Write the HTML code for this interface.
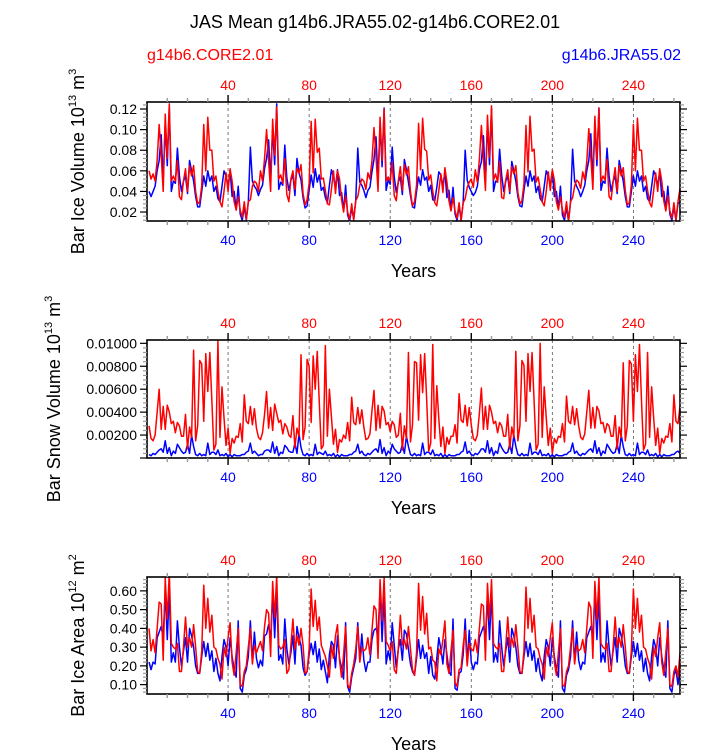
<!DOCTYPE html>
<html><head><meta charset="utf-8"><style>
html,body{margin:0;padding:0;background:#fff;}
svg{display:block;font-family:"Liberation Sans",sans-serif;}
</style></head><body>
<svg id="chart" width="723" height="755" viewBox="0 0 723 755">
<text x="375" y="28" font-size="18" text-anchor="middle">JAS Mean g14b6.JRA55.02-g14b6.CORE2.01</text>
<text x="147" y="60" font-size="16" fill="#ff0000">g14b6.CORE2.01</text>
<text x="681" y="60" font-size="16" fill="#0000ff" text-anchor="end">g14b6.JRA55.02</text>
</svg>
<script>
const xTicks=[40,80,120,160,200,240];
const ivTicks=[0.02,0.04,0.06,0.08,0.10,0.12];
const ivLabels=["0.02","0.04","0.06","0.08","0.10","0.12"];
const svTicks=[0.002,0.004,0.006,0.008,0.010];
const svLabels=["0.00200","0.00400","0.00600","0.00800","0.01000"];
const iaTicks=[0.1,0.2,0.3,0.4,0.5,0.6];
const iaLabels=["0.10","0.20","0.30","0.40","0.50","0.60"];

const iceVolCore=[
0.060,0.052,0.057,0.050,0.070,0.105,0.075,0.040,0.115,0.072,0.125,0.050,0.055,0.050,0.070,0.035,0.032,0.050,0.062,0.040,0.065,0.055,0.065,0.040,0.028,0.030,0.045,0.105,0.060,0.112,0.080,0.080,0.050,0.055,0.040,0.030,0.025,0.040,0.058,0.040,0.062,0.050,0.030,0.022,0.035,0.022,0.015,0.030,0.013,0.030,0.032,0.045,0.050,
0.048,0.040,0.060,0.050,0.072,0.100,0.070,0.040,0.110,0.075,0.122,0.052,0.056,0.048,0.072,0.037,0.030,0.052,0.060,0.042,0.062,0.058,0.066,0.038,0.027,0.032,0.048,0.108,0.058,0.110,0.078,0.082,0.052,0.053,0.041,0.028,0.027,0.042,0.060,0.038,0.060,0.052,0.032,0.020,0.036,0.020,0.013,0.028,0.012,0.031,0.035,0.046,0.052,
0.050,0.042,0.058,0.052,0.070,0.102,0.074,0.040,0.112,0.070,0.120,0.050,0.054,0.050,0.068,0.036,0.031,0.050,0.064,0.041,0.066,0.056,0.064,0.040,0.026,0.030,0.046,0.106,0.061,0.111,0.081,0.079,0.051,0.056,0.040,0.029,0.026,0.041,0.057,0.039,0.063,0.049,0.031,0.021,0.034,0.021,0.014,0.029,0.012,0.029,0.033,0.044,0.049,
0.052,0.044,0.061,0.049,0.071,0.104,0.072,0.041,0.114,0.073,0.123,0.051,0.057,0.049,0.069,0.034,0.033,0.051,0.061,0.040,0.064,0.057,0.065,0.039,0.028,0.031,0.047,0.104,0.059,0.113,0.079,0.081,0.049,0.054,0.042,0.030,0.026,0.040,0.059,0.041,0.061,0.051,0.030,0.022,0.035,0.022,0.015,0.030,0.011,0.030,0.034,0.045,0.051,
0.049,0.043,0.059,0.051,0.069,0.101,0.073,0.042,0.113,0.071,0.121,0.049,0.055,0.051,0.071,0.035,0.032,0.049,0.063,0.040,0.065,0.055,0.063,0.041,0.027,0.029,0.046,0.105,0.060,0.111,0.080,0.080,0.050,0.055,0.041,0.029,0.025,0.041,0.058,0.040,0.062,0.050,0.031,0.021,0.036,0.021,0.014,0.029,0.012,0.030,0.043];
const iceVolJra=[
0.040,0.035,0.040,0.045,0.060,0.070,0.095,0.050,0.105,0.065,0.122,0.040,0.050,0.048,0.082,0.055,0.040,0.050,0.055,0.038,0.070,0.060,0.050,0.035,0.025,0.025,0.040,0.055,0.045,0.060,0.050,0.055,0.040,0.045,0.033,0.030,0.045,0.060,0.055,0.045,0.060,0.035,0.040,0.022,0.045,0.018,0.012,0.025,0.012,0.030,0.083,0.050,0.045,
0.042,0.036,0.042,0.046,0.062,0.072,0.090,0.052,0.100,0.066,0.125,0.042,0.049,0.046,0.085,0.053,0.041,0.051,0.056,0.036,0.072,0.058,0.051,0.034,0.024,0.026,0.041,0.056,0.044,0.062,0.049,0.056,0.041,0.044,0.034,0.029,0.046,0.061,0.054,0.044,0.061,0.036,0.039,0.021,0.046,0.017,0.011,0.024,0.013,0.031,0.082,0.049,0.046,
0.041,0.034,0.041,0.044,0.059,0.071,0.093,0.051,0.104,0.064,0.121,0.041,0.051,0.047,0.083,0.054,0.039,0.049,0.054,0.037,0.071,0.061,0.049,0.036,0.025,0.024,0.040,0.054,0.046,0.061,0.051,0.054,0.040,0.046,0.032,0.031,0.044,0.059,0.056,0.045,0.059,0.034,0.041,0.022,0.044,0.018,0.012,0.026,0.012,0.029,0.080,0.051,0.044,
0.040,0.036,0.039,0.045,0.061,0.069,0.094,0.049,0.106,0.066,0.120,0.040,0.050,0.049,0.081,0.056,0.040,0.050,0.055,0.038,0.069,0.060,0.050,0.035,0.026,0.025,0.041,0.055,0.045,0.060,0.050,0.055,0.039,0.045,0.033,0.030,0.045,0.060,0.055,0.046,0.060,0.035,0.040,0.023,0.045,0.017,0.012,0.025,0.011,0.030,0.081,0.050,0.045,
0.041,0.035,0.040,0.046,0.060,0.070,0.096,0.050,0.105,0.065,0.121,0.041,0.050,0.048,0.082,0.055,0.040,0.050,0.055,0.038,0.070,0.060,0.050,0.035,0.025,0.025,0.040,0.055,0.045,0.060,0.050,0.055,0.040,0.045,0.033,0.030,0.045,0.060,0.055,0.045,0.060,0.035,0.040,0.022,0.045,0.018,0.012,0.025,0.012,0.028,0.030];
const snowVolCore=[
0.0028,0.0017,0.0015,0.0020,0.0040,0.0060,0.0025,0.0045,0.0025,0.0046,0.0040,0.0030,0.0032,0.0022,0.0031,0.0028,0.0019,0.0019,0.0038,0.0008,0.0027,0.0018,0.0094,0.0015,0.0028,0.0085,0.0082,0.0032,0.0091,0.0058,0.0092,0.0050,0.0007,0.0012,0.0102,0.0018,0.0062,0.0035,0.0011,0.0026,0.0004,0.0017,0.0013,0.0019,0.0018,0.0030,0.0014,0.0055,0.0032,0.0030,0.0045,0.0029,0.0043,
0.0026,0.0018,0.0016,0.0022,0.0038,0.0058,0.0026,0.0044,0.0024,0.0047,0.0039,0.0031,0.0033,0.0021,0.0030,0.0027,0.0020,0.0018,0.0037,0.0009,0.0026,0.0019,0.0090,0.0016,0.0027,0.0086,0.0080,0.0031,0.0089,0.0060,0.0093,0.0049,0.0008,0.0011,0.0098,0.0019,0.0060,0.0036,0.0012,0.0025,0.0005,0.0016,0.0014,0.0020,0.0017,0.0031,0.0015,0.0053,0.0031,0.0029,0.0044,0.0030,0.0042,
0.0027,0.0016,0.0017,0.0021,0.0041,0.0059,0.0024,0.0046,0.0026,0.0045,0.0041,0.0029,0.0031,0.0023,0.0032,0.0029,0.0018,0.0020,0.0039,0.0007,0.0028,0.0017,0.0092,0.0014,0.0029,0.0084,0.0083,0.0033,0.0090,0.0057,0.0091,0.0051,0.0006,0.0013,0.0099,0.0017,0.0063,0.0034,0.0010,0.0027,0.0004,0.0018,0.0012,0.0019,0.0019,0.0029,0.0013,0.0056,0.0033,0.0031,0.0046,0.0028,0.0044,
0.0029,0.0017,0.0015,0.0020,0.0039,0.0061,0.0025,0.0045,0.0025,0.0046,0.0040,0.0030,0.0032,0.0022,0.0031,0.0028,0.0019,0.0019,0.0038,0.0008,0.0027,0.0018,0.0093,0.0015,0.0028,0.0085,0.0081,0.0032,0.0091,0.0058,0.0092,0.0050,0.0007,0.0012,0.0100,0.0018,0.0062,0.0035,0.0011,0.0026,0.0004,0.0017,0.0013,0.0019,0.0018,0.0030,0.0014,0.0054,0.0032,0.0030,0.0045,0.0029,0.0043,
0.0028,0.0018,0.0016,0.0021,0.0040,0.0059,0.0026,0.0044,0.0026,0.0045,0.0041,0.0030,0.0031,0.0022,0.0030,0.0028,0.0019,0.0019,0.0037,0.0008,0.0027,0.0018,0.0083,0.0015,0.0028,0.0085,0.0082,0.0032,0.0090,0.0058,0.0099,0.0050,0.0007,0.0012,0.0092,0.0018,0.0062,0.0035,0.0011,0.0026,0.0004,0.0017,0.0013,0.0019,0.0018,0.0030,0.0014,0.0055,0.0032,0.0030,0.0045];
const snowVolJra=[
0.0003,0.0002,0.0004,0.0003,0.0005,0.0007,0.0008,0.0005,0.0015,0.0004,0.0009,0.0002,0.0006,0.0004,0.0012,0.0009,0.0006,0.0004,0.0005,0.0012,0.0004,0.0020,0.0010,0.0003,0.0002,0.0004,0.0002,0.0003,0.0002,0.0013,0.0003,0.0005,0.0005,0.0003,0.0007,0.0002,0.0003,0.0002,0.0004,0.0001,0.0003,0.0001,0.0003,0.0002,0.0002,0.0002,0.0003,0.0003,0.0005,0.0006,0.0013,0.0004,0.0006,
0.0004,0.0002,0.0003,0.0003,0.0006,0.0007,0.0007,0.0005,0.0014,0.0004,0.0010,0.0002,0.0005,0.0004,0.0011,0.0009,0.0006,0.0005,0.0005,0.0013,0.0004,0.0021,0.0009,0.0003,0.0002,0.0004,0.0002,0.0003,0.0002,0.0012,0.0003,0.0005,0.0004,0.0003,0.0006,0.0002,0.0003,0.0002,0.0004,0.0001,0.0003,0.0001,0.0003,0.0002,0.0002,0.0002,0.0003,0.0003,0.0005,0.0006,0.0012,0.0004,0.0006,
0.0003,0.0002,0.0004,0.0003,0.0005,0.0007,0.0008,0.0005,0.0016,0.0004,0.0009,0.0002,0.0006,0.0004,0.0012,0.0008,0.0006,0.0004,0.0005,0.0012,0.0004,0.0019,0.0010,0.0003,0.0002,0.0004,0.0002,0.0003,0.0002,0.0013,0.0003,0.0005,0.0005,0.0003,0.0007,0.0002,0.0003,0.0002,0.0004,0.0001,0.0003,0.0001,0.0003,0.0002,0.0002,0.0002,0.0003,0.0003,0.0005,0.0006,0.0014,0.0004,0.0006,
0.0003,0.0002,0.0004,0.0003,0.0005,0.0008,0.0008,0.0005,0.0015,0.0004,0.0009,0.0002,0.0006,0.0004,0.0013,0.0009,0.0006,0.0004,0.0005,0.0012,0.0004,0.0020,0.0010,0.0003,0.0002,0.0004,0.0002,0.0003,0.0002,0.0013,0.0003,0.0005,0.0005,0.0003,0.0007,0.0002,0.0003,0.0002,0.0004,0.0001,0.0003,0.0001,0.0003,0.0002,0.0002,0.0002,0.0003,0.0003,0.0005,0.0006,0.0013,0.0004,0.0006,
0.0003,0.0002,0.0004,0.0003,0.0005,0.0007,0.0008,0.0005,0.0015,0.0004,0.0009,0.0002,0.0006,0.0004,0.0012,0.0009,0.0006,0.0004,0.0005,0.0012,0.0004,0.0020,0.0010,0.0003,0.0002,0.0004,0.0002,0.0003,0.0002,0.0013,0.0003,0.0005,0.0005,0.0003,0.0007,0.0002,0.0003,0.0002,0.0004,0.0001,0.0003,0.0001,0.0003,0.0002,0.0002,0.0002,0.0003,0.0003,0.0005,0.0006,0.0004];
const iceAreaCore=[
0.40,0.28,0.34,0.27,0.40,0.54,0.53,0.23,0.67,0.45,0.70,0.32,0.30,0.29,0.32,0.17,0.17,0.30,0.46,0.30,0.35,0.30,0.42,0.30,0.17,0.16,0.28,0.63,0.40,0.56,0.38,0.47,0.30,0.29,0.24,0.21,0.13,0.30,0.25,0.35,0.43,0.22,0.15,0.27,0.40,0.10,0.09,0.17,0.20,0.30,0.40,0.21,0.31,
0.27,0.30,0.33,0.28,0.41,0.50,0.48,0.25,0.65,0.46,0.68,0.31,0.29,0.30,0.34,0.16,0.18,0.31,0.45,0.29,0.36,0.31,0.40,0.31,0.16,0.17,0.29,0.61,0.41,0.55,0.39,0.46,0.31,0.28,0.25,0.20,0.14,0.31,0.24,0.36,0.42,0.23,0.14,0.26,0.41,0.10,0.08,0.16,0.21,0.29,0.41,0.22,0.30,
0.28,0.29,0.35,0.26,0.39,0.52,0.50,0.24,0.66,0.44,0.67,0.33,0.31,0.28,0.33,0.18,0.16,0.29,0.47,0.31,0.34,0.29,0.41,0.29,0.18,0.15,0.27,0.64,0.39,0.57,0.37,0.48,0.29,0.30,0.23,0.22,0.12,0.29,0.26,0.34,0.44,0.21,0.16,0.28,0.39,0.11,0.09,0.18,0.19,0.31,0.39,0.20,0.32,
0.29,0.28,0.34,0.27,0.40,0.53,0.52,0.23,0.64,0.45,0.66,0.32,0.30,0.29,0.32,0.17,0.17,0.30,0.46,0.30,0.35,0.30,0.42,0.30,0.17,0.16,0.28,0.62,0.40,0.56,0.38,0.47,0.30,0.29,0.24,0.21,0.13,0.30,0.25,0.35,0.43,0.22,0.15,0.27,0.40,0.10,0.09,0.17,0.20,0.30,0.40,0.21,0.31,
0.28,0.29,0.34,0.27,0.40,0.54,0.51,0.24,0.65,0.45,0.67,0.32,0.30,0.29,0.32,0.17,0.17,0.30,0.46,0.30,0.35,0.30,0.42,0.30,0.17,0.16,0.28,0.61,0.40,0.56,0.38,0.47,0.30,0.29,0.24,0.21,0.13,0.30,0.25,0.35,0.43,0.22,0.15,0.27,0.40,0.10,0.09,0.17,0.20,0.14,0.27];
const iceAreaJra=[
0.22,0.18,0.22,0.21,0.35,0.38,0.41,0.35,0.60,0.34,0.60,0.22,0.27,0.22,0.44,0.30,0.20,0.28,0.35,0.22,0.40,0.36,0.30,0.20,0.16,0.16,0.25,0.33,0.25,0.32,0.23,0.28,0.17,0.24,0.16,0.12,0.25,0.34,0.30,0.20,0.35,0.25,0.18,0.14,0.44,0.08,0.06,0.15,0.18,0.25,0.44,0.22,0.38,
0.24,0.19,0.23,0.20,0.36,0.37,0.42,0.34,0.58,0.35,0.62,0.23,0.26,0.21,0.45,0.29,0.21,0.27,0.36,0.21,0.41,0.35,0.31,0.19,0.15,0.17,0.26,0.32,0.26,0.33,0.22,0.29,0.18,0.23,0.17,0.11,0.26,0.33,0.31,0.19,0.36,0.24,0.19,0.13,0.43,0.09,0.06,0.14,0.19,0.24,0.43,0.23,0.37,
0.23,0.17,0.22,0.22,0.34,0.39,0.40,0.36,0.61,0.33,0.59,0.21,0.28,0.23,0.43,0.31,0.19,0.29,0.34,0.23,0.39,0.37,0.29,0.21,0.17,0.15,0.24,0.34,0.24,0.31,0.24,0.27,0.16,0.25,0.15,0.13,0.24,0.35,0.29,0.21,0.34,0.26,0.17,0.15,0.45,0.08,0.07,0.16,0.17,0.26,0.45,0.21,0.39,
0.22,0.18,0.22,0.21,0.35,0.38,0.41,0.35,0.57,0.34,0.60,0.22,0.27,0.22,0.44,0.30,0.20,0.28,0.35,0.22,0.40,0.36,0.30,0.20,0.16,0.16,0.25,0.33,0.25,0.32,0.23,0.28,0.17,0.24,0.16,0.12,0.25,0.34,0.30,0.20,0.35,0.25,0.18,0.14,0.44,0.08,0.06,0.15,0.18,0.25,0.44,0.22,0.38,
0.23,0.18,0.22,0.21,0.35,0.38,0.41,0.35,0.59,0.34,0.58,0.22,0.27,0.22,0.44,0.30,0.20,0.28,0.35,0.22,0.40,0.36,0.30,0.20,0.16,0.16,0.25,0.33,0.25,0.32,0.23,0.28,0.17,0.24,0.16,0.12,0.25,0.34,0.30,0.20,0.35,0.25,0.18,0.14,0.44,0.08,0.06,0.15,0.18,0.10,0.20];

const NS="http://www.w3.org/2000/svg";
const svg=document.getElementById('chart');
const X0=147,X1=680,XMIN=0,XMAX=263;
function xs(v){return X0+(v-XMIN)/(XMAX-XMIN)*(X1-X0);}
function mk(tag,attrs,parent){const e=document.createElementNS(NS,tag);for(const k in attrs)e.setAttribute(k,attrs[k]);(parent||svg).appendChild(e);return e;}

function panel(p){
  const g=mk('g',{});
  
  
  const ys=v=>p.top+(p.ymax-v)/(p.ymax-p.ymin)*(p.bot-p.top);
  // clip
  const cp=mk('clipPath',{id:'clip-'+p.name},g);
  mk('rect',{x:X0,y:p.top,width:X1-X0,height:p.bot-p.top},cp);
  // dashed grid
  xTicks.forEach(t=>{
    const l=mk('line',{x1:xs(t),x2:xs(t),y1:p.top,y2:p.bot,stroke:'#555','stroke-width':0.8,'stroke-dasharray':'3,3'},g);
    
    
  });
  // series
  [[p.core,'#ff0000','series-core'],[p.jra,'#0000ff','series-jra']].forEach((s,si)=>{});
  const drawS=(arr,col,nm)=>{
    let d='';arr.forEach((v,i)=>{d+=(i?'L':'M')+xs(i+1).toFixed(2)+','+ys(v).toFixed(2);});
    const path=mk('path',{d:d,fill:'none',stroke:col,'stroke-width':1.5,'stroke-linejoin':'round','clip-path':'url(#clip-'+p.name+')'},g);
    
    
  };
  drawS(p.jra,'#0000ff',p.name+'-jra-line');
  drawS(p.core,'#ff0000',p.name+'-core-line');
  // frame
  const fr=mk('rect',{x:X0,y:p.top,width:X1-X0,height:p.bot-p.top,fill:'none',stroke:'#000','stroke-width':1.6},g);
  
  
  // x ticks
  for(let t=10;t<=260;t+=10){
    const major=t%40===0;const len=major?7:4;
    mk('line',{x1:xs(t),x2:xs(t),y1:p.top,y2:p.top-len,stroke:major?'#000':'#999','stroke-width':major?1.4:1.4},g);
    mk('line',{x1:xs(t),x2:xs(t),y1:p.bot,y2:p.bot+len,stroke:major?'#000':'#999','stroke-width':1.4},g);
  }
  xTicks.forEach(t=>{
    const a=mk('text',{x:xs(t),y:p.top-12,'font-size':14,fill:'#ff0000','text-anchor':'middle'},g);a.textContent=t;
    
    
    const b=mk('text',{x:xs(t),y:p.bot+24,'font-size':14,fill:'#0000ff','text-anchor':'middle'},g);b.textContent=t;
    
    
  });
  const xt=mk('text',{x:(X0+X1)/2,y:p.bot+56,'font-size':18,'text-anchor':'middle'},g);xt.textContent='Years';
  
  
  // y ticks
  const step=(p.ticks[1]-p.ticks[0])/5;
  for(let v=p.ticks[0]-5*step;v<=p.ymax+1e-9;v+=step){
    if(v<p.ymin-1e-9)continue;
    const k=Math.round((v-p.ticks[0])/step);const major=k%5===0;const len=major?7:4;
    mk('line',{x1:X0,x2:X0-len,y1:ys(v),y2:ys(v),stroke:major?'#000':'#999','stroke-width':1.2},g);
    mk('line',{x1:X1,x2:X1+len,y1:ys(v),y2:ys(v),stroke:major?'#000':'#999','stroke-width':1.2},g);
  }
  p.ticks.forEach((v,i)=>{
    const t=mk('text',{x:X0-10,y:ys(v)+5,'font-size':14,'text-anchor':'end'},g);t.textContent=p.labels[i];
    
    
  });
  const yt=mk('text',{transform:`translate(${p.titleX},${(p.top+p.bot)/2}) rotate(-90)`,'font-size':18,'text-anchor':'middle'},g);
  yt.innerHTML=p.title;
  
  
}
panel({name:'ice-volume-panel',top:102,bot:221,ymin:0.0113,ymax:0.1268,ticks:ivTicks,labels:ivLabels,core:iceVolCore,jra:iceVolJra,titleX:84,
 title:'Bar Ice Volume 10<tspan dy="-8" font-size="11">13</tspan><tspan dy="8"> m</tspan><tspan dy="-8" font-size="11">3</tspan>'});
panel({name:'snow-volume-panel',top:340,bot:458,ymin:0,ymax:0.01029,ticks:svTicks,labels:svLabels,core:snowVolCore,jra:snowVolJra,titleX:60,
 title:'Bar Snow Volume 10<tspan dy="-8" font-size="11">13</tspan><tspan dy="8"> m</tspan><tspan dy="-8" font-size="11">3</tspan>'});
panel({name:'ice-area-panel',top:577,bot:694,ymin:0.05,ymax:0.674,ticks:iaTicks,labels:iaLabels,core:iceAreaCore,jra:iceAreaJra,titleX:84,
 title:'Bar Ice Area 10<tspan dy="-8" font-size="11">12</tspan><tspan dy="8"> m</tspan><tspan dy="-8" font-size="11">2</tspan>'});
</script>
</body></html>
